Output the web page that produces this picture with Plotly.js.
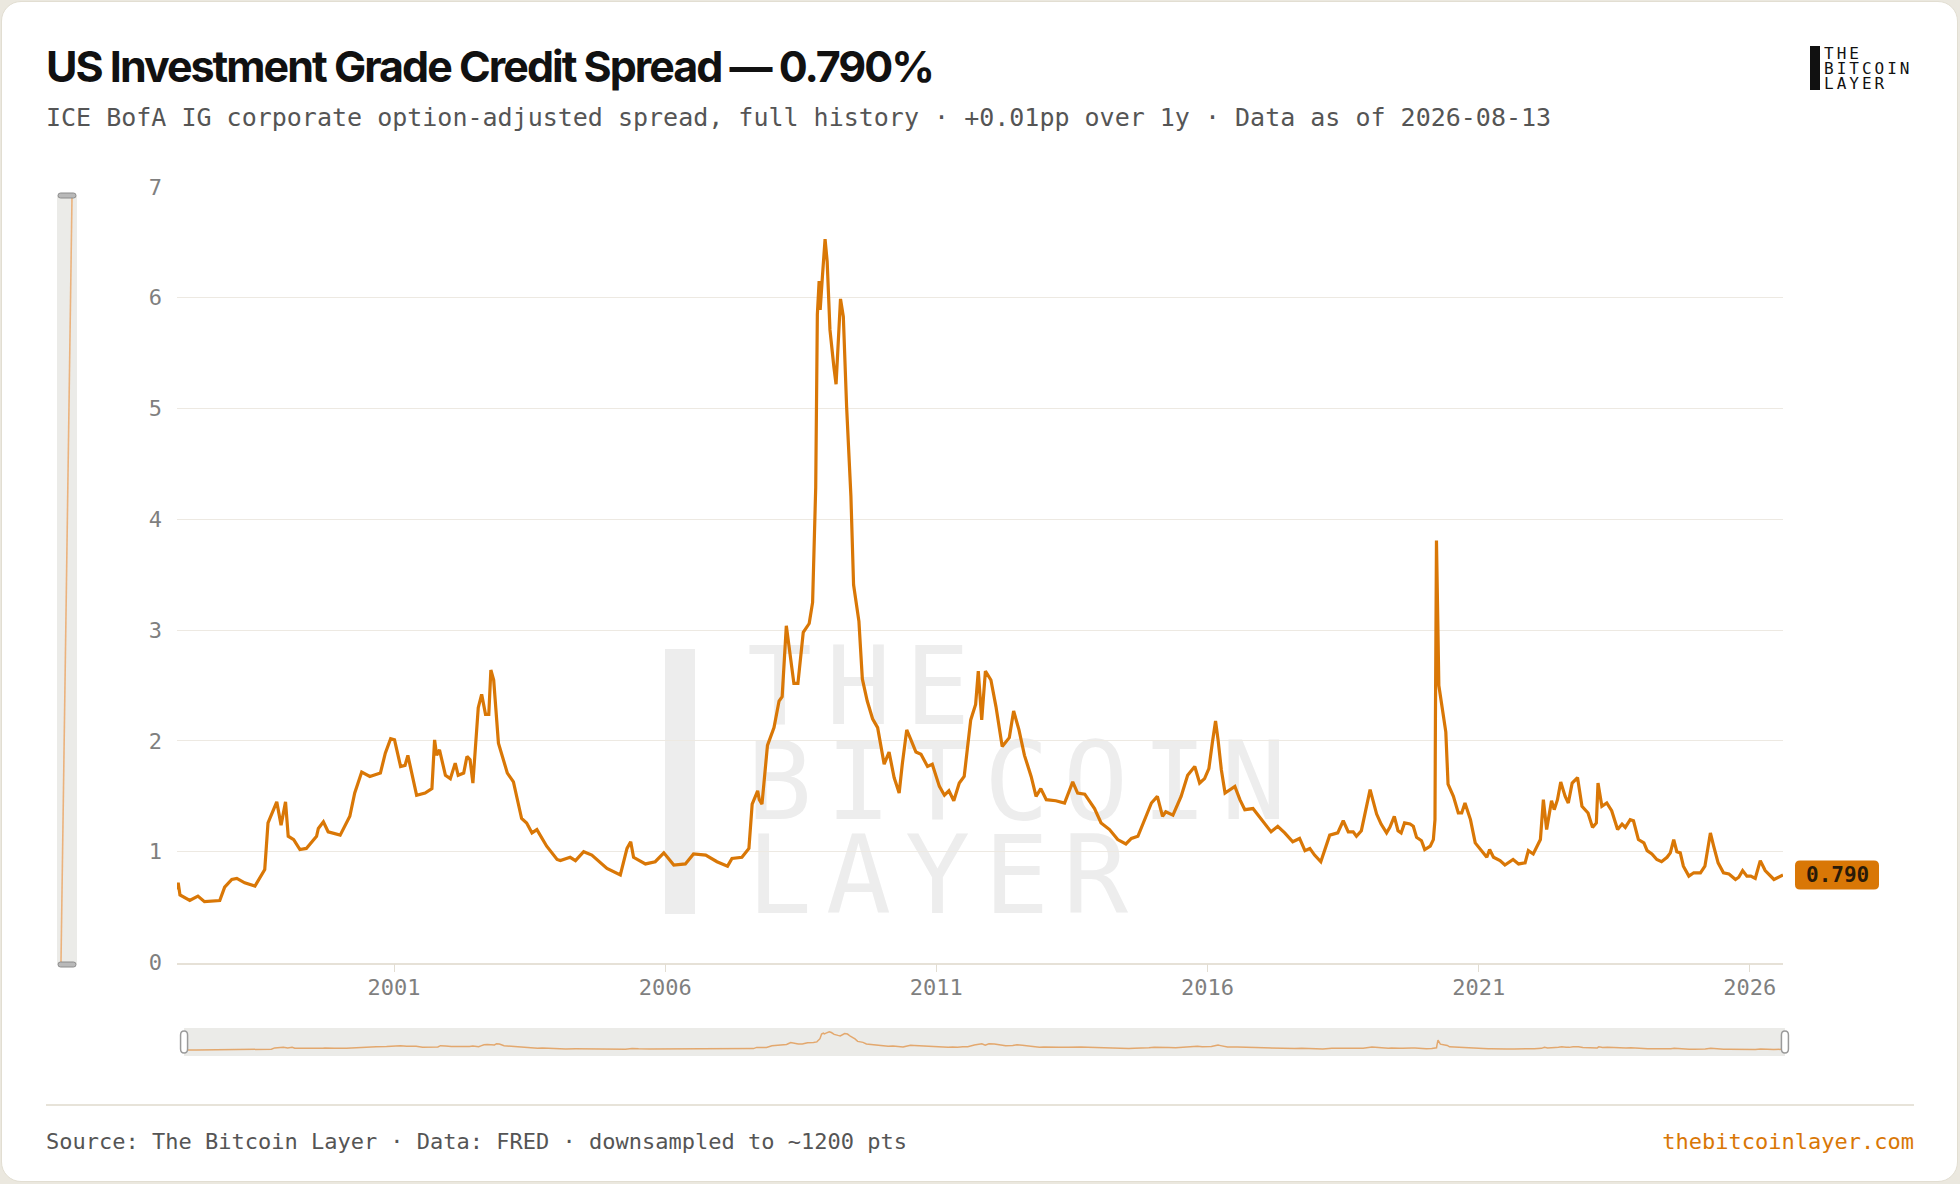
<!DOCTYPE html>
<html>
<head>
<meta charset="utf-8">
<script src="https://cdn.plot.ly/plotly-3.0.1.min.js"></script>
<style>
  html, body { margin:0; padding:0; width:1960px; height:1184px; background:#ebe8df; overflow:hidden; }
  #card { position:absolute; left:1px; top:1px; width:1955px; height:1179px; background:#fff; border:1px solid #e2ded2; border-radius:20px; }
  .abs { position:absolute; white-space:pre; }
  #title { left:46px; top:45px; font-family:Inter, 'Noto Sans', sans-serif; font-weight:700; font-size:43px; line-height:43px; letter-spacing:-2px; color:#111; }
  #subtitle { left:46px; top:105px; font-family:'DejaVu Sans Mono', monospace; font-size:25px; line-height:25px; color:#555; }
  #footer { left:46px; top:1131px; font-family:'DejaVu Sans Mono', monospace; font-size:22px; line-height:22px; color:#555; }
  #site { right:46px; top:1131px; font-family:'DejaVu Sans Mono', monospace; font-size:22px; line-height:22px; color:#d97706; }
  #rule { left:46px; top:1104px; width:1868px; height:2px; background:#e7e3d9; }
  #logo { left:1824px; top:46px; font-family:'DejaVu Sans Mono', monospace; font-size:16px; line-height:15px; letter-spacing:3px; color:#111; }
  #wm { left:747px; top:640px; font-family:'DejaVu Sans Mono', monospace; font-size:108px; line-height:94.5px; letter-spacing:14px; color:#ededed; }
  #chart { position:absolute; left:0; top:0; width:1960px; height:1184px; }
</style>
</head>
<body>
<div id="card"></div>
<!-- watermark -->
<div class="abs" style="left:665px;top:649px;width:30px;height:265px;background:#ededed;"></div>
<div class="abs" id="wm">THE
BITCOIN
LAYER</div>
<!-- left vertical zoom bar -->
<svg class="abs" style="left:0;top:0;" width="120" height="1000">
  <rect x="57" y="196" width="20" height="768" fill="#ebebe8"/>
  <line x1="72" y1="197" x2="61" y2="962" stroke="#ebb27c" stroke-width="1.6"/>
  <rect x="58" y="193" width="18" height="5" rx="2.5" fill="#b9b9b9" stroke="#8c8c8c" stroke-width="1"/>
  <rect x="58" y="962" width="18" height="5" rx="2.5" fill="#b9b9b9" stroke="#8c8c8c" stroke-width="1"/>
</svg>
<div id="chart"></div>
<div class="abs" id="title">US Investment Grade Credit Spread — 0.790%</div>
<div class="abs" id="subtitle">ICE BofA IG corporate option-adjusted spread, full history · +0.01pp over 1y · Data as of 2026-08-13</div>
<div class="abs" style="left:1810px;top:46px;width:10px;height:44px;background:#111;"></div>
<div class="abs" id="logo">THE
BITCOIN
LAYER</div>
<div class="abs" id="rule"></div>
<div class="abs" id="footer">Source: The Bitcoin Layer · Data: FRED · downsampled to ~1200 pts</div>
<div class="abs" id="site">thebitcoinlayer.com</div>
<script>
// ---- data ----
const dates = [
 '1996-12-31','1997-01-08','1997-01-20','1997-03-27','1997-05-21','1997-07-04','1997-10-15','1997-11-17',
 '1998-01-04','1998-02-07','1998-04-01','1998-06-09','1998-08-14','1998-09-05','1998-11-03','1998-12-02',
 '1999-01-01','1999-01-19','1999-02-25','1999-04-08','1999-05-21','1999-07-29','1999-08-10','1999-09-13','1999-10-15',
 '2000-01-04','2000-03-09','2000-04-11','2000-05-28','2000-07-22','2000-10-01','2000-11-03','2000-12-09',
 '2001-01-04','2001-02-14','2001-03-16','2001-04-04','2001-04-19','2001-06-02','2001-07-29','2001-09-13','2001-10-01','2001-10-15','2001-11-03','2001-12-13',
 '2002-01-15','2002-02-17','2002-03-09','2002-04-15','2002-05-07','2002-05-28','2002-06-16','2002-07-01','2002-07-22','2002-08-14','2002-09-09','2002-10-01','2002-10-15','2002-11-03','2002-12-05',
 '2003-02-03','2003-03-16','2003-05-10','2003-06-13','2003-07-19','2003-08-21','2003-10-26',
 '2004-01-04','2004-01-26','2004-04-01','2004-05-07','2004-07-01','2004-08-25','2004-12-05',
 '2005-03-05','2005-04-19','2005-05-14','2005-06-02','2005-08-21','2005-10-26','2005-12-23',
 '2006-02-28','2006-05-17','2006-07-11','2006-10-01','2006-12-16',
 '2007-02-25','2007-03-27','2007-06-02','2007-07-19','2007-08-10','2007-09-02','2007-09-16','2007-09-27','2007-10-15','2007-11-21',
 '2008-01-04','2008-02-07','2008-02-28','2008-03-27','2008-04-26','2008-05-17','2008-06-13','2008-07-19','2008-08-28','2008-09-20','2008-10-11','2008-10-22','2008-11-03','2008-11-10','2008-11-25','2008-12-13','2008-12-27',
 '2009-01-15','2009-02-10','2009-02-25','2009-03-27','2009-04-15','2009-05-07','2009-06-05','2009-06-23','2009-07-29','2009-08-21','2009-09-23','2009-10-29','2009-12-02',
 '2010-01-15','2010-02-17','2010-03-23','2010-04-26','2010-05-17','2010-06-16','2010-07-11','2010-08-17','2010-09-20','2010-11-03','2010-12-05',
 '2011-01-22','2011-02-25','2011-03-27','2011-04-29','2011-06-05','2011-07-08','2011-08-21','2011-09-23','2011-10-11','2011-11-03','2011-11-28',
 '2012-01-04','2012-02-07','2012-03-20','2012-05-07','2012-06-05','2012-07-11','2012-08-17','2012-10-01','2012-11-03','2012-12-05',
 '2013-01-11','2013-03-16','2013-05-14','2013-07-08','2013-08-10','2013-09-27','2013-12-02',
 '2014-01-15','2014-03-13','2014-05-07','2014-07-01','2014-08-07','2014-09-20','2014-11-14','2014-12-20',
 '2015-01-29','2015-03-05','2015-03-27','2015-05-14','2015-07-08','2015-08-21','2015-10-08','2015-11-10','2015-12-13',
 '2016-01-11','2016-02-03','2016-02-25','2016-03-13','2016-04-04','2016-04-29','2016-07-04','2016-08-07','2016-09-09','2016-11-03',
 '2017-01-01','2017-03-05','2017-04-19','2017-06-05','2017-07-29','2017-09-13','2017-10-19','2017-11-21','2017-12-23',
 '2018-02-03','2018-04-04','2018-05-28','2018-07-04','2018-08-07','2018-09-09','2018-10-01','2018-11-03',
 '2019-01-01','2019-02-14','2019-03-16','2019-04-22','2019-05-14','2019-06-13','2019-07-08','2019-07-29','2019-08-21','2019-09-27','2019-10-19','2019-11-10','2019-12-13',
 '2020-01-04','2020-02-10','2020-03-02','2020-03-13','2020-03-16','2020-03-23','2020-04-08','2020-04-26','2020-05-25','2020-06-09','2020-07-15','2020-08-17','2020-09-09','2020-10-01','2020-11-07','2020-12-09',
 '2021-01-22','2021-02-25','2021-03-16','2021-04-11','2021-05-25','2021-06-27','2021-08-21','2021-09-27','2021-11-10','2021-12-02',
 '2022-01-04','2022-02-21','2022-03-13','2022-04-04','2022-05-07','2022-05-25','2022-06-16','2022-07-08','2022-08-07','2022-08-28','2022-09-23','2022-10-29','2022-11-28',
 '2023-01-08','2023-02-07','2023-03-05','2023-03-16','2023-04-11','2023-05-14','2023-06-16','2023-07-26','2023-08-25','2023-09-16','2023-10-19','2023-11-10','2023-12-13',
 '2024-01-19','2024-02-10','2024-03-13','2024-04-15','2024-05-17','2024-06-23','2024-07-15','2024-08-07','2024-08-28','2024-09-20','2024-10-11','2024-11-17','2024-12-20',
 '2025-02-03','2025-03-05','2025-04-11','2025-05-03','2025-06-02','2025-07-08','2025-08-14','2025-09-27','2025-10-19','2025-11-14','2025-12-13',
 '2026-01-08','2026-02-07','2026-03-13','2026-04-15','2026-06-13','2026-08-07','2026-08-13'
];
const spread = [
 0.66,0.72,0.61,0.56,0.60,0.55,0.56,0.68,
 0.75,0.76,0.72,0.69,0.84,1.26,1.45,1.24,
 1.45,1.14,1.11,1.02,1.03,1.14,1.21,1.27,1.18,
 1.15,1.32,1.53,1.72,1.68,1.71,1.89,2.02,
 2.01,1.77,1.78,1.87,1.77,1.51,1.53,1.57,2.01,1.87,1.92,1.69,
 1.66,1.80,1.69,1.71,1.86,1.83,1.62,1.92,2.30,2.42,2.24,2.24,2.64,2.55,1.98,
 1.71,1.63,1.30,1.26,1.17,1.20,1.05,
 0.93,0.92,0.95,0.92,1.00,0.97,0.85,
 0.79,1.03,1.09,0.95,0.89,0.91,0.99,
 0.88,0.89,0.98,0.97,0.91,
 0.87,0.94,0.95,1.03,1.43,1.51,1.55,1.47,1.43,1.96,
 2.12,2.36,2.40,3.04,2.72,2.52,2.52,2.98,3.06,3.25,4.29,5.85,6.15,5.89,6.19,6.53,6.33,
 5.71,5.38,5.22,5.99,5.83,5.02,4.21,3.41,3.08,2.56,2.36,2.20,2.12,
 1.79,1.90,1.67,1.53,1.79,2.10,2.02,1.90,1.88,1.77,1.79,
 1.59,1.51,1.55,1.46,1.62,1.68,2.19,2.33,2.63,2.19,2.63,
 2.55,2.31,1.95,2.03,2.27,2.10,1.87,1.68,1.50,1.57,
 1.47,1.46,1.44,1.63,1.53,1.52,1.39,
 1.26,1.20,1.11,1.07,1.12,1.14,1.32,1.44,
 1.50,1.32,1.36,1.33,1.50,1.69,1.77,1.62,1.66,
 1.75,1.98,2.18,2.01,1.74,1.53,1.59,1.47,1.38,1.39,
 1.29,1.18,1.23,1.17,1.09,1.12,1.01,1.03,0.97,
 0.91,1.15,1.17,1.28,1.18,1.18,1.14,1.19,
 1.56,1.34,1.25,1.17,1.22,1.32,1.19,1.17,1.26,1.25,1.23,1.13,1.10,
 1.02,1.05,1.11,1.29,2.20,3.81,2.50,2.32,2.08,1.61,1.50,1.35,1.35,1.44,1.29,1.08,
 1.01,0.95,1.02,0.95,0.92,0.88,0.93,0.89,0.90,1.01,
 0.98,1.11,1.47,1.20,1.46,1.38,1.47,1.63,1.50,1.44,1.62,1.67,1.41,
 1.35,1.22,1.26,1.62,1.41,1.44,1.37,1.20,1.25,1.22,1.29,1.28,1.11,
 1.08,1.01,0.98,0.93,0.91,0.95,0.99,1.11,1.00,0.99,0.87,0.78,0.81,
 0.81,0.87,1.17,1.05,0.90,0.81,0.80,0.75,0.77,0.83,0.78,
 0.78,0.76,0.92,0.83,0.75,0.79,0.79
];
const yTicks = [0,1,2,3,4,5,6,7];
const lastLabel = '0.790';

// ---- chart ----
const lastDate = dates[dates.length-1];
const lastVal = spread[spread.length-1];
const orange = '#d97706';
const mono = 'DejaVu Sans Mono, monospace';

const traces = [
  { type:'scatter', mode:'lines', x:dates, y:spread, xaxis:'x', yaxis:'y',
    line:{color:orange, width:3.2, shape:'linear'}, hoverinfo:'x+y' },
  { type:'scatter', mode:'lines', x:dates, y:spread, xaxis:'x2', yaxis:'y2',
    line:{color:'rgba(226,156,88,0.85)', width:1.5}, hoverinfo:'skip' }
];

const sliderY0 = 0.0023, sliderY1 = 0.0344, sliderX0 = 0.0044, sliderX1 = 1.0012;
const sliderYc = (sliderY0 + sliderY1) / 2;
const handlePath = 'M -3.5,-7 Q -3.5,-11 0,-11 Q 3.5,-11 3.5,-7 L 3.5,7 Q 3.5,11 0,11 Q -3.5,11 -3.5,7 Z';

const layout = {
  width:1960, height:1184,
  margin:{l:177, r:177, t:187, b:126, pad:0},
  paper_bgcolor:'rgba(0,0,0,0)', plot_bgcolor:'rgba(0,0,0,0)',
  showlegend:false,
  xaxis:{ type:'date', domain:[0,1], anchor:'y', range:[dates[0], lastDate],
    tick0:'2001-01-01', dtick:'M60', tickformat:'%Y',
    ticks:'outside', ticklen:8, tickwidth:1, tickcolor:'#e2ddd2',
    showline:true, linecolor:'#e6e1d7', linewidth:1.5, showgrid:false, zeroline:false,
    tickfont:{family:mono, size:22, color:'#7f7f7f'}, ticklabelstandoff:-4, fixedrange:true },
  yaxis:{ domain:[0.1096,1], anchor:'x', range:[0,7], tickvals:yTicks, ticktext:yTicks.map(String),
    showgrid:true, gridcolor:'#ede9e2', gridwidth:1, zeroline:false, showline:false, ticks:'',
    tickfont:{family:mono, size:22, color:'#7f7f7f'}, ticklabelstandoff:14, fixedrange:true },
  xaxis2:{ type:'date', domain:[sliderX0,1], anchor:'y2', range:[dates[0], lastDate], visible:false, fixedrange:true },
  yaxis2:{ domain:[sliderY0,sliderY1], anchor:'x2', range:[-1.4,7.8], visible:false, fixedrange:true },
  shapes:[
    { type:'rect', xref:'paper', yref:'paper', x0:sliderX0, x1:sliderX1, y0:sliderY0, y1:sliderY1,
      fillcolor:'#ebebe8', line:{width:0}, layer:'below' },
    { type:'path', xref:'paper', yref:'paper', xsizemode:'pixel', ysizemode:'pixel',
      xanchor:sliderX0, yanchor:sliderYc, path:handlePath, fillcolor:'#ffffff', line:{color:'#9a9a9a', width:1.5} },
    { type:'path', xref:'paper', yref:'paper', xsizemode:'pixel', ysizemode:'pixel',
      xanchor:sliderX1, yanchor:sliderYc, path:handlePath, fillcolor:'#ffffff', line:{color:'#9a9a9a', width:1.5} },
    { type:'path', xref:'paper', yref:'y', xsizemode:'pixel', ysizemode:'pixel',
      xanchor:1, yanchor:lastVal,
      path:'M 17,-14.5 L 91,-14.5 Q 96,-14.5 96,-9.5 L 96,9.5 Q 96,14.5 91,14.5 L 17,14.5 Q 12,14.5 12,9.5 L 12,-9.5 Q 12,-14.5 17,-14.5 Z',
      fillcolor:orange, line:{width:0} }
  ],
  annotations:[
    { xref:'paper', yref:'y', x:1, y:lastVal, xshift:54, xanchor:'center', yanchor:'middle',
      text:'<b>'+lastLabel+'</b>', showarrow:false, font:{family:mono, size:21, color:'#2a1a08'} }
  ]
};

Plotly.newPlot('chart', traces, layout, {displayModeBar:false, staticPlot:false, responsive:false});
</script>
</body>
</html>
